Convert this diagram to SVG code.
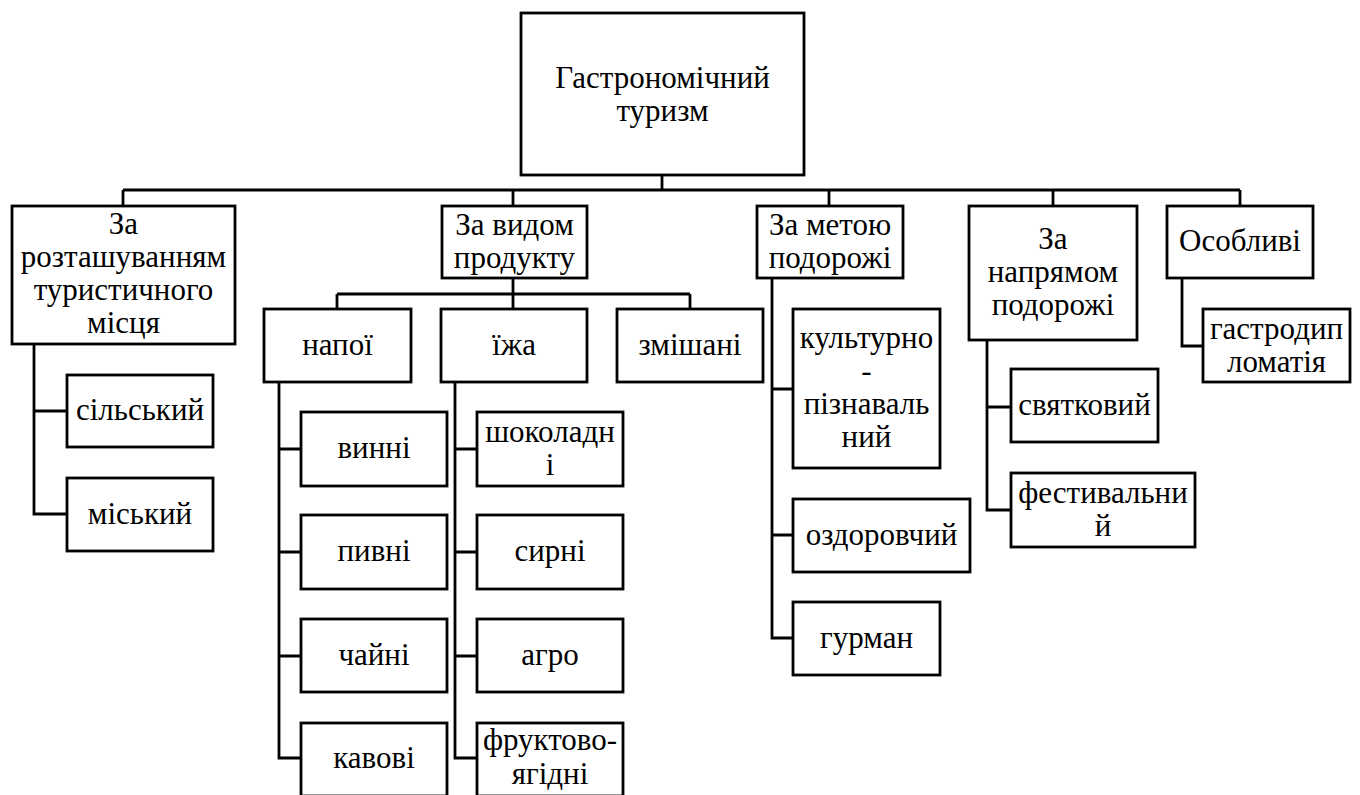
<svg xmlns="http://www.w3.org/2000/svg" width="1360" height="795" viewBox="0 0 1360 795">
<style>
rect{fill:#fff;stroke:#000;stroke-width:2.8}
.c path{fill:none;stroke:#000;stroke-width:2.8}
text{font-family:serif;font-size:31px;fill:#000;text-anchor:middle}
</style>
<rect x="0" y="0" width="1360" height="795" style="stroke:none"/>
<g class="c" id="connectors">
<path d="M662,175V190M123,190H1240M123,190V206M513,190V206M829,190V206M1053,190V206M1240,190V206"/>
<path d="M34,344V514H67M34,411H67"/>
<path d="M513,278V294M337,294H690M337,294V309M513,294V309M690,294V309"/>
<path d="M279,382V758H301M279,449H301M279,552H301M279,656H301"/>
<path d="M455,382V758H477M455,449H477M455,552H477M455,656H477"/>
<path d="M772,278V638H793M772,389H793M772,535H793"/>
<path d="M987,340V510H1011M987,407H1011"/>
<path d="M1182,278V346H1203"/>
</g>
<g id="root"><rect x="521" y="13" width="283" height="162"/><text x="662.5" y="88">Гастрономічний</text><text x="662.5" y="121">туризм</text></g>
<g id="n1"><rect x="12" y="206" width="223" height="138"/><text x="123.5" y="234">За</text><text x="123.5" y="267">розташуванням</text><text x="123.5" y="300">туристичного</text><text x="123.5" y="333">місця</text></g>
<g id="n2"><rect x="442" y="206" width="145" height="72"/><text x="514.5" y="235">За видом</text><text x="514.5" y="268">продукту</text></g>
<g id="n3"><rect x="757" y="206" width="146" height="72"/><text x="830" y="235">За метою</text><text x="830" y="268">подорожі</text></g>
<g id="n4"><rect x="969" y="206" width="168" height="134"/><text x="1053" y="249">За</text><text x="1053" y="282">напрямом</text><text x="1053" y="315">подорожі</text></g>
<g id="n5"><rect x="1167" y="206" width="146" height="72"/><text x="1240" y="251">Особливі</text></g>
<g id="n1a"><rect x="67" y="375" width="146" height="72"/><text x="140" y="420">сільський</text></g>
<g id="n1b"><rect x="67" y="478" width="146" height="73"/><text x="140" y="524">міський</text></g>
<g id="n2a"><rect x="264" y="309" width="147" height="73"/><text x="337.5" y="355">напої</text></g>
<g id="n2b"><rect x="441" y="309" width="146" height="73"/><text x="514" y="355">їжа</text></g>
<g id="n2c"><rect x="617" y="309" width="146" height="73"/><text x="690" y="355">змішані</text></g>
<g id="d1"><rect x="301" y="412" width="146" height="74"/><text x="374" y="458">винні</text></g>
<g id="d2"><rect x="301" y="515" width="146" height="74"/><text x="374" y="561">пивні</text></g>
<g id="d3"><rect x="301" y="619" width="146" height="73"/><text x="374" y="665">чайні</text></g>
<g id="d4"><rect x="301" y="723" width="146" height="73"/><text x="374" y="768">кавові</text></g>
<g id="f1"><rect x="477" y="412" width="146" height="74"/><text x="550" y="442">шоколадн</text><text x="550" y="475">і</text></g>
<g id="f2"><rect x="477" y="515" width="146" height="74"/><text x="550" y="561">сирні</text></g>
<g id="f3"><rect x="477" y="619" width="146" height="73"/><text x="550" y="665">агро</text></g>
<g id="f4"><rect x="477" y="723" width="146" height="73"/><text x="550" y="750">фруктово-</text><text x="550" y="784">ягідні</text></g>
<g id="n3a"><rect x="793" y="309" width="147" height="159"/><text x="866.5" y="348">культурно</text><text x="866.5" y="381">-</text><text x="866.5" y="414">пізнаваль</text><text x="866.5" y="447">ний</text></g>
<g id="n3b"><rect x="793" y="499" width="177" height="73"/><text x="881.5" y="545">оздоровчий</text></g>
<g id="n3c"><rect x="793" y="602" width="147" height="73"/><text x="866.5" y="648">гурман</text></g>
<g id="n4a"><rect x="1011" y="369" width="147" height="73"/><text x="1084.5" y="415">святковий</text></g>
<g id="n4b"><rect x="1011" y="473" width="184" height="74"/><text x="1103" y="503">фестивальни</text><text x="1103" y="536">й</text></g>
<g id="n5a"><rect x="1203" y="309" width="147" height="73"/><text x="1276.5" y="339">гастродип</text><text x="1276.5" y="372">ломатія</text></g>
</svg>
